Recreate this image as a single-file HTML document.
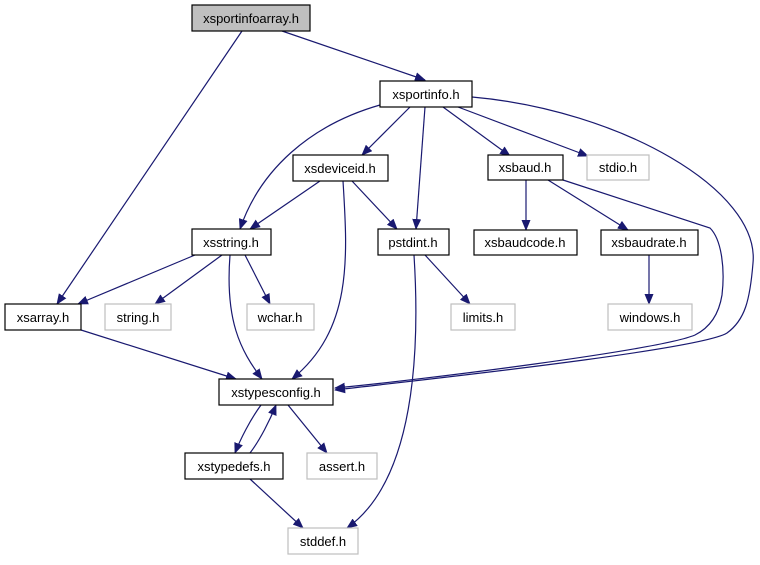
<!DOCTYPE html>
<html><head><meta charset="utf-8"><style>
html,body{margin:0;padding:0;background:#fff;}
svg text{font-family:"Liberation Sans",Arial,sans-serif;font-size:13px;text-anchor:middle;}
</style></head><body>
<svg width="760" height="560" viewBox="0 0 760 560" xmlns="http://www.w3.org/2000/svg">
<defs>
<marker id="a" markerWidth="11" markerHeight="9" refX="10" refY="4.5" orient="auto" markerUnits="userSpaceOnUse">
<path d="M0,0 L11,4.5 L0,9 Z" fill="#191970"/></marker>
</defs>
<g fill="none" stroke="#191970" stroke-width="1.2" marker-end="url(#a)">
<path d="M282,31 L425,80"/>
<path d="M242,31 L57,304"/>
<path d="M380,105 C310,125 260,170 240,229"/>
<path d="M410,107 L362,155"/>
<path d="M425,107 L416,229"/>
<path d="M443,107 L510,156"/>
<path d="M458,107 L588,156"/>
<path d="M472,97 C620,110 760,190 753,263 C750,300 745,320 727,333 C700,350 420,380 335,390"/>
<path d="M320,181 L250,229"/>
<path d="M352,181 L397,229"/>
<path d="M343,181 C348,260 352,330 292,379"/>
<path d="M526,180 L526,230"/>
<path d="M548,180 L628,230"/>
<path d="M563,180 L710,228 C722,240 725,270 722,295 C718,320 705,330 695,335 C660,350 420,380 335,388"/>
<path d="M649,255 L649,304"/>
<path d="M195,255 L78,304"/>
<path d="M222,255 L155,304"/>
<path d="M245,255 L270,304"/>
<path d="M230,255 C225,320 240,350 262,379"/>
<path d="M425,255 L470,304"/>
<path d="M414,255 C420,350 415,480 347,528"/>
<path d="M81,330 L236,379"/>
<path d="M261,405 C250,420 240,440 235,453"/>
<path d="M250,453 C260,440 270,420 276,405"/>
<path d="M288,405 L327,453"/>
<path d="M250,479 L303,528"/>
</g>
<g stroke-width="1.2">
<rect x="192" y="5" width="118" height="26" fill="#bfbfbf" stroke="#000"/>
<rect x="380" y="81" width="92" height="26" fill="#fff" stroke="#000"/>
<rect x="293" y="155" width="95" height="26" fill="#fff" stroke="#000"/>
<rect x="488" y="155" width="75" height="25" fill="#fff" stroke="#000"/>
<rect x="587" y="155" width="62" height="25" fill="#fff" stroke="#bfbfbf"/>
<rect x="192" y="229" width="79" height="26" fill="#fff" stroke="#000"/>
<rect x="378" y="229" width="71" height="26" fill="#fff" stroke="#000"/>
<rect x="474" y="230" width="103" height="25" fill="#fff" stroke="#000"/>
<rect x="601" y="230" width="97" height="25" fill="#fff" stroke="#000"/>
<rect x="5" y="304" width="76" height="26" fill="#fff" stroke="#000"/>
<rect x="105" y="304" width="66" height="26" fill="#fff" stroke="#bfbfbf"/>
<rect x="247" y="304" width="67" height="26" fill="#fff" stroke="#bfbfbf"/>
<rect x="451" y="304" width="64" height="26" fill="#fff" stroke="#bfbfbf"/>
<rect x="608" y="304" width="84" height="26" fill="#fff" stroke="#bfbfbf"/>
<rect x="219" y="379" width="114" height="26" fill="#fff" stroke="#000"/>
<rect x="185" y="453" width="98" height="26" fill="#fff" stroke="#000"/>
<rect x="307" y="453" width="70" height="26" fill="#fff" stroke="#bfbfbf"/>
<rect x="288" y="528" width="70" height="26" fill="#fff" stroke="#bfbfbf"/>
</g>
<g fill="#000">
<text x="251" y="23">xsportinfoarray.h</text>
<text x="426" y="99">xsportinfo.h</text>
<text x="340" y="173">xsdeviceid.h</text>
<text x="525" y="172">xsbaud.h</text>
<text x="618" y="172">stdio.h</text>
<text x="231" y="247">xsstring.h</text>
<text x="413" y="247">pstdint.h</text>
<text x="525" y="247">xsbaudcode.h</text>
<text x="649" y="247">xsbaudrate.h</text>
<text x="43" y="322">xsarray.h</text>
<text x="138" y="322">string.h</text>
<text x="280" y="322">wchar.h</text>
<text x="483" y="322">limits.h</text>
<text x="650" y="322">windows.h</text>
<text x="276" y="397">xstypesconfig.h</text>
<text x="234" y="471">xstypedefs.h</text>
<text x="342" y="471">assert.h</text>
<text x="323" y="546">stddef.h</text>
</g>
</svg>
</body></html>
